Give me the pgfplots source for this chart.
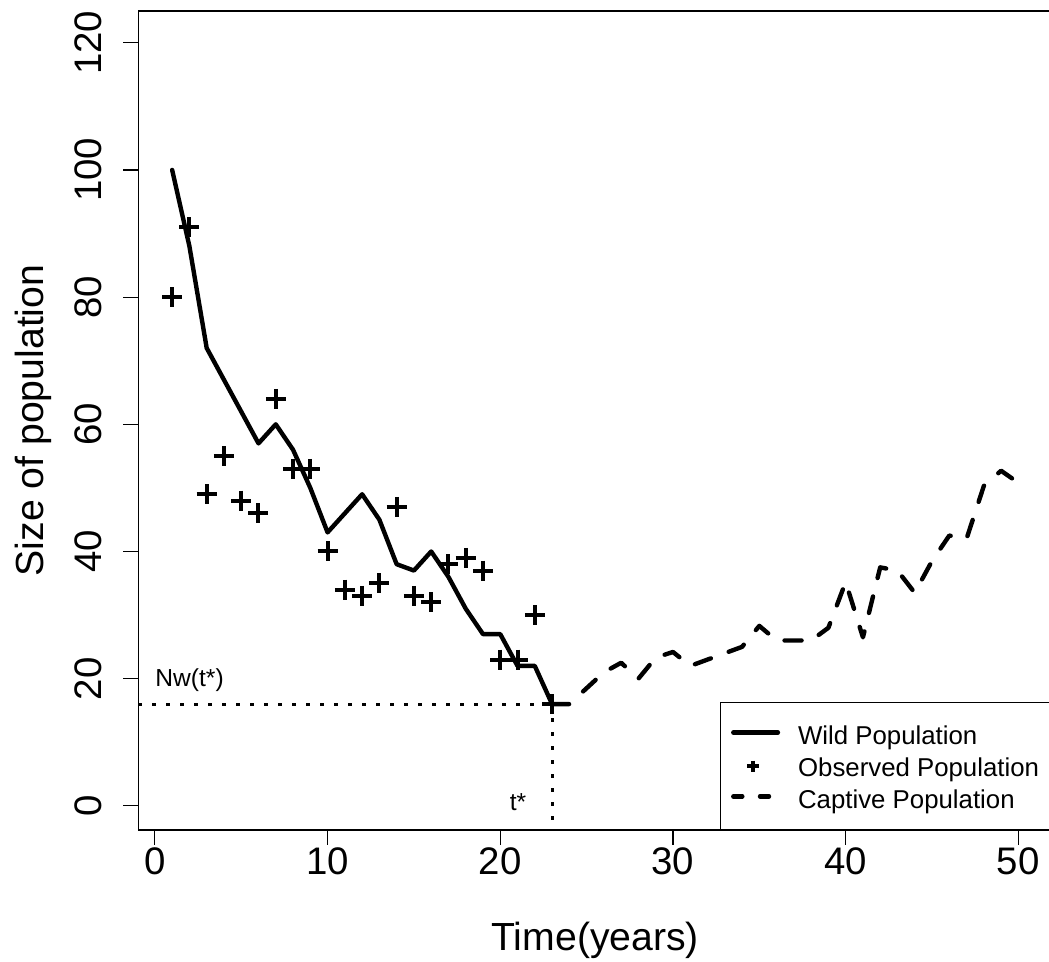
\documentclass[border=0pt]{standalone}
\usepackage{fontspec}
\setmainfont{Liberation Sans}
\usepackage{pgfplots}
\pgfplotsset{compat=1.18}

\begin{document}
\begin{tikzpicture}
\path[use as bounding box] (-69.15pt,-66pt) rectangle (455.35pt,415pt);
\begin{axis}[
  scale only axis,
  width=456.95pt, height=409.5pt,
  xmin=-0.96, xmax=51.96, ymin=-3.8, ymax=125,
  axis line style={line width=0.6pt, black},
  tick align=outside, tick pos=left,
  major tick length=7.5pt,
  major tick style={line width=0.6pt, black},
  xtick={0,10,...,50}, ytick={0,20,...,120},
  tick label style={font=\fontsize{19.2}{23}\selectfont, inner sep=0pt},
  /pgf/number format/assume math mode=true,
  xticklabel style={anchor=north},
  xticklabel shift=1.2pt,
  yticklabel style={rotate=90, anchor=south},
  yticklabel shift=10.4pt,
  xlabel={Time(years)}, ylabel={Size of population},
  every axis x label/.style={at={(axis description cs:0.5,-0.1343)}, anchor=center,
    font=\fontsize{19.6}{23.5}\selectfont},
  every axis y label/.style={at={(axis description cs:-0.1147,0.5)}, anchor=center, rotate=90,
    font=\fontsize{19.6}{23.5}\selectfont},
  legend style={
    at={(axis description cs:0.6365,0)}, anchor=south west,
    draw=black, line width=0.6pt, fill=white,
    inner xsep=4.15pt, inner ysep=7.75pt,
    font=\fontsize{12.9}{15.5}\selectfont,
    row sep=0pt, column sep=7.9pt,
    cells={anchor=base west},
    nodes={inner sep=0pt, text height=13.25pt, text depth=2.75pt, anchor=base west},
  },
]
% Wild population
\addplot[line width=2.2pt, line join=round, line cap=round,
  legend image code/.code={\path (0pt,0pt) (24.5pt,6pt);
    \draw[line width=2.2pt, line cap=round] (1.1pt,6pt) -- (23.4pt,6pt);}]
coordinates {
(1,100) (2,88) (3,72) (4,67) (5,62) (6,57) (7,60) (8,56) (9,50) (10,43)
(11,46) (12,49) (13,45) (14,38) (15,37) (16,40) (17,36) (18,31) (19,27) (20,27)
(21,22) (22,22) (23,16)
};
\addlegendentry{Wild Population}
% Observed population
\addplot[only marks, mark=+, mark size=5pt, mark options={line width=2pt, black},
  legend image code/.code={\path (0pt,0pt) (24.5pt,6pt);
    \draw[only marks, mark=+, mark size=2.9pt, line width=0.65pt] plot coordinates {(10.85pt,5pt)};}]
coordinates {
(1,80) (2,91) (3,49) (4,55) (5,48) (6,46) (7,64) (8,53) (9,53) (10,40)
(11,34) (12,33) (13,35) (14,47) (15,33) (16,32) (17,38) (18,39) (19,37) (20,23)
(21,23) (22,30) (23,16)
};
\addlegendentry{Observed Population}
% Captive population
\addplot[line width=2.2pt, line join=round, line cap=round, dash pattern=on 8.5pt off 9.5pt,
  legend image code/.code={\path (0pt,0pt) (24.5pt,6pt);
    \draw[line width=2.2pt, line cap=round, dash pattern=on 4.5pt off 8.85pt] (1.1pt,6pt) -- (23.4pt,6pt);}]
coordinates {
(23,16) (24,16) (25,18.5) (26,21) (27,22.5) (28,20) (29,23.3) (30,24.2) (31,22) (32,23)
(33,24) (34,25) (35,28.3) (36,26) (37,26) (38,26) (39,28) (40,35.2) (41,26.5) (42,37.5)
(43,37) (44,33.5) (45,38.5) (46,42.5) (47,42) (48,50.3) (49,52.7) (50,50.8)
};
\addlegendentry{Captive Population\hspace*{20pt}}
% dotted reference lines
\addplot[forget plot, line width=1.5pt, line cap=butt, dash pattern=on 2pt off 5pt]
coordinates {(-0.96,16) (23,16)};
\addplot[forget plot, line width=1.5pt, line cap=butt, dash pattern=on 2pt off 5pt]
coordinates {(23,16) (23,-3.8)};
\node[font=\fontsize{12.3}{14.8}\selectfont, anchor=base] at (axis cs:2.01,18.7) {Nw(t*)};
\node[font=\fontsize{12.3}{14.8}\selectfont, anchor=base] at (axis cs:21.03,-0.8) {t*};
\end{axis}
\end{tikzpicture}
\end{document}
